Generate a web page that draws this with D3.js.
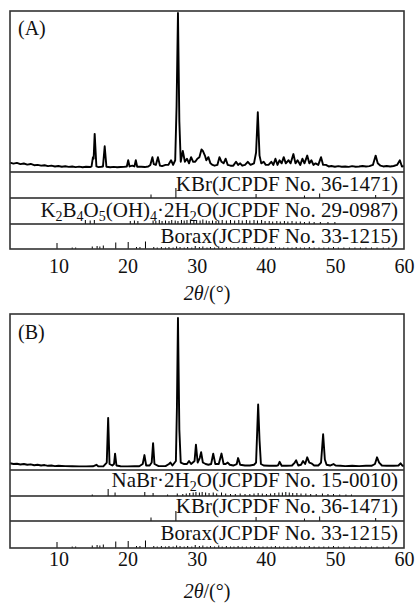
<!DOCTYPE html>
<meta charset="utf-8">
<script src="https://d3js.org/d3.v7.min.js"></script>
<div id="my_dataviz"></div>

<style>
  body { margin: 0; background: #fff; }
  svg text { font-family: "Liberation Serif", "DejaVu Serif", serif !important; fill: #111; }
</style>

<script>

// 2theta tick labels
var ticks2theta = [10, 20, 30, 40, 50, 60];

// measured patterns: [2theta, intensity (a.u., main peak = 100)]
var patternA = [
  [3.0,3.5],[3.5,2.8],[4.0,3.3],[4.5,2.5],[5.0,2.9],[5.5,2.2],[6.0,2.6],[6.5,1.8],[7.0,2.0],[7.5,1.5],
  [8.0,1.8],[8.5,1.2],[9.0,1.5],[9.5,1.0],[10.0,1.3],[10.5,0.8],[11.0,1.1],[11.5,0.7],[12.0,1.0],[12.5,0.6],
  [13.0,0.9],[13.5,0.5],[14.0,0.8],[14.6,0.6],[14.8,1],[15.0,7],[15.1,6],[15.25,22],[15.5,1],[15.8,0.6],
  [16.2,0.8],[16.45,1],[16.7,14],[16.95,0.8],[17.5,0.5],[18.0,0.7],[18.5,0.5],[19.0,0.6],[19.5,0.7],[19.9,1],
  [20.1,5],[20.3,1],[20.7,1.5],[21.0,1],[21.2,5],[21.4,0.8],[22.0,0.8],[22.5,0.6],[23.0,1],[23.3,2],
  [23.6,7],[23.8,2.5],[24.1,2],[24.4,7],[24.7,1.5],[25.0,1.2],[25.5,2],[25.9,2],[26.3,5],[26.6,2],
  [26.9,5],[27.1,40],[27.3,100],[27.5,30],[27.7,4],[28.0,11],[28.3,4],[28.6,6],[28.9,3],[29.2,7],
  [29.5,4],[29.8,4],[30.1,6],[30.4,7],[30.7,12],[30.9,11],[31.2,8],[31.4,5],[31.7,7],[32.0,3],
  [32.3,2],[32.6,1.5],[33.0,2],[33.3,7],[33.6,4],[33.9,3],[34.2,6],[34.5,2],[34.9,1.5],[35.3,1.5],
  [35.7,4],[36.0,2],[36.3,3],[36.6,1.5],[37.0,2],[37.4,4],[37.8,2],[38.3,3],[38.6,10],[38.85,36],
  [39.1,8],[39.35,3],[39.7,4],[40.0,2],[40.4,2],[40.8,4],[41.1,2],[41.4,6],[41.7,2],[42.0,5],
  [42.3,3],[42.6,7],[42.9,3],[43.3,5],[43.6,3],[44.0,9],[44.3,3],[44.6,5],[45.0,2],[45.3,6],
  [45.6,3],[46.0,8],[46.3,3],[46.6,5],[46.9,2],[47.2,3],[47.6,2],[48.0,7],[48.3,2],[48.7,2],
  [49.1,1],[49.5,1.3],[50.0,0.8],[50.5,1.2],[51.0,0.8],[51.5,1],[52.0,0.7],[52.5,1.2],[53.0,0.8],[53.5,1],
  [54.0,1.3],[54.5,1],[55.0,1.2],[55.5,2],[55.9,8],[56.2,3],[56.6,1.5],[57.0,1],[57.5,1.3],[58.0,1],
  [58.5,1.3],[59.0,2],[59.4,5],[59.7,1],[60.0,1.2]
];

var patternB = [
  [3.0,2.5],[3.5,2.0],[4.0,2.2],[4.5,1.7],[5.0,2.0],[5.5,1.5],[6.0,1.8],[6.5,1.2],[7.0,1.5],[7.5,1.0],
  [8.0,1.3],[8.5,0.8],[9.0,1.0],[9.5,0.6],[10.0,0.8],[11.0,0.6],[12.0,0.5],[13.0,0.4],[14.0,0.4],[15.0,0.5],
  [15.5,1.5],[15.8,0.4],[16.5,0.4],[17.0,3],[17.2,33],[17.4,2],[17.8,1],[18.05,2],[18.2,9],[18.4,1],
  [19.0,0.5],[20.0,0.4],[21.0,0.5],[21.7,0.5],[22.2,2],[22.45,8],[22.7,1],[23.2,1],[23.5,3],[23.7,16],
  [23.9,2],[24.5,0.6],[25.5,0.6],[26.0,2],[26.2,3],[26.5,1],[27.0,4],[27.15,40],[27.3,100],[27.5,25],
  [27.7,3],[28.2,2],[28.6,2],[28.9,4],[29.2,2],[29.7,4],[29.9,15],[30.15,3],[30.45,6],[30.65,10],
  [30.9,3],[31.3,2],[31.7,1.5],[32.1,2],[32.4,9],[32.7,2],[33.2,2],[33.6,9],[33.9,2],[34.2,2],
  [34.5,3],[34.8,1.5],[35.3,1],[35.8,2],[36.0,6],[36.3,1.5],[37.0,1],[37.7,1],[38.3,1.5],[38.6,3],
  [38.9,42],[39.1,18],[39.3,2],[39.7,1],[40.5,0.8],[41.5,0.8],[41.8,1.2],[42.0,3.5],[42.3,0.8],[43.0,0.8],
  [43.8,1],[44.2,3],[44.4,4.5],[44.7,1],[45.1,1.5],[45.4,4],[45.7,2],[46.0,6.5],[46.3,3],[46.6,2.5],
  [47.0,1],[47.6,1],[48.0,3],[48.3,22],[48.55,5],[48.8,1.5],[49.3,1],[49.8,2],[50.1,1],[50.8,0.8],
  [51.5,0.6],[52.5,0.8],[53.5,0.6],[54.5,0.8],[55.3,0.8],[55.8,2],[56.1,6.5],[56.4,3],[56.8,1],[57.5,0.8],
  [58.5,0.8],[59.2,1],[59.5,2.5],[59.8,0.8],[60.0,0.8]
];

// reference cards: [2theta, relative intensity]
var kbrSticks = [[23.4,35],[27.0,100],[38.6,40],[45.6,25],[47.8,45],[55.9,30]];

var k2b4Sticks = [
  [13.9,40],[14.6,35],[15.2,40],[20.4,30],[21.0,35],[21.5,30],[23.7,35],[24.1,30],[24.6,40],[25.0,30],
  [25.5,35],[26.0,30],[26.4,40],[26.9,35],[27.3,30],[27.8,40],[28.2,35],[28.6,40],[29.1,45],[29.6,35],
  [30.0,40],[30.5,35],[30.9,45],[31.4,35],[31.8,30],[32.3,35],[32.8,30],[33.2,35],[33.7,40],[34.3,35],
  [34.9,40],[35.5,35],[36.1,40],[36.6,35],[37.2,40],[37.7,35],[38.3,40],[38.8,35],[39.4,40],[39.9,30],
  [40.5,30],[41.0,25],[41.6,30],[42.1,25],[42.7,30],[43.2,25],[43.8,30],[44.4,25],[45.0,25],[45.6,20],
  [46.3,25],[47.0,20],[47.9,20],[49.0,20],[50.0,20]
];

var boraxSticks = [
  [9.8,60],[12.0,15],[12.5,15],[14.9,25],[15.6,30],[16.0,25],[16.5,35],[18.3,65],[20.1,70],[21.3,20],
  [21.8,20],[22.6,75],[23.8,20],[24.3,15],[24.9,20],[25.5,15],[26.0,20],[26.6,15],[27.1,25],[27.6,20],
  [28.2,15],[28.7,20],[29.3,15],[29.8,30],[30.4,20],[30.9,25],[31.5,15],[32.0,20],[32.6,15],[33.2,25],
  [33.7,15],[34.3,20],[34.9,15],[35.4,15],[36.0,20],[36.6,15],[37.2,15],[37.8,15],[38.4,20],[39.0,15],
  [39.6,15],[40.2,15],[40.8,15],[41.4,20],[42.0,15],[42.6,15],[43.2,15],[43.8,15],[44.4,20],[45.0,15],
  [45.6,15],[46.3,20],[47.0,15],[47.7,15],[48.4,15],[49.1,15],[49.8,20],[50.5,15],[51.3,15],[52.1,15],
  [52.9,15],[53.7,15],[54.5,15],[55.3,15],[56.1,15],[57.0,15],[57.8,15]
];

var nabrSticks = [
  [14.9,15],[17.2,70],[18.2,35],[22.5,40],[23.7,30],[25.8,15],[27.2,25],[28.0,20],[28.5,25],[29.0,30],
  [29.5,35],[29.9,40],[30.4,35],[30.8,40],[31.3,35],[31.8,30],[32.4,35],[32.9,25],[33.6,35],[34.2,25],
  [34.9,20],[35.6,20],[36.3,25],[37.0,20],[37.7,20],[38.3,25],[38.9,30],[39.5,25],[40.1,20],[40.7,25],
  [41.3,30],[41.9,35],[42.4,35],[42.9,40],[43.4,35],[43.9,30],[44.5,30],[45.1,25],[45.8,25],[46.5,20],
  [47.3,20],[48.2,25],[49.0,20],[49.8,20],[50.7,15],[51.6,15],[52.4,15]
];

// card labels, split into [text, subscript?] pieces
var labelKBr = [["KBr(JCPDF No. 36-1471)", 0]];
var labelK2B4 = [["K",0],["2",1],["B",0],["4",1],["O",0],["5",1],["(OH)",0],["4",1],["\u00b72H",0],["2",1],["O(JCPDF No. 29-0987)",0]];
var labelBorax = [["Borax(JCPDF No. 33-1215)", 0]];
var labelNaBr = [["NaBr\u00b72H",0],["2",1],["O(JCPDF No. 15-0010)",0]];

var serif = '"Liberation Serif", "DejaVu Serif", serif';
var W = 416, H = 603;
var svg = d3.select("#my_dataviz").append("svg")
  .attr("width", W).attr("height", H)
  .attr("font-family", serif);

var x = d3.scaleLinear().domain([3, 60]).range([10, 404]);

function drawPanel(p) {
  var g = svg.append("g");

  var y = d3.scaleLinear().domain([0, 100]).range([p.base, p.peakTop]);

  var line = d3.line()
    .x(function(d) { return x(d[0]); })
    .y(function(d) { return y(d[1]); });

  g.append("path")
    .datum(p.pattern)
    .attr("d", line)
    .attr("fill", "none")
    .attr("stroke", "#000")
    .attr("stroke-width", 1.9)
    .attr("stroke-linejoin", "round");

  // card strips
  p.strips.forEach(function(s) {
    var sh = d3.scaleLinear().domain([0, 100]).range([0, 10]);
    g.append("line")
      .attr("x1", x(3)).attr("x2", x(60))
      .attr("y1", s.top).attr("y2", s.top)
      .attr("stroke", "#222").attr("stroke-width", 1.4);

    g.selectAll(null)
      .data(s.sticks)
      .enter().append("line")
        .attr("x1", function(d) { return x(d[0]); })
        .attr("x2", function(d) { return x(d[0]); })
        .attr("y1", s.bottom)
        .attr("y2", function(d) { return s.bottom - sh(d[1]); })
        .attr("stroke", "#000").attr("stroke-width", 1);

    var t = g.append("text")
      .attr("x", 398).attr("y", s.textY)
      .attr("text-anchor", "end")
      .attr("font-family", serif)
      .style("font-size", "21px");
    var prevSub = false;
    s.label.forEach(function(piece) {
      var isSub = piece[1] === 1;
      var ts = t.append("tspan")
        .attr("dy", (isSub ? 4 : 0) - (prevSub ? 4 : 0))
        .text(piece[0]);
      if (isSub) ts.style("font-size", "14px");
      prevSub = isSub;
    });
  });

  // frame
  g.append("rect")
    .attr("x", x(3)).attr("y", p.top)
    .attr("width", x(60) - x(3)).attr("height", p.bottom - p.top)
    .attr("fill", "none").attr("stroke", "#333").attr("stroke-width", 1.6);

  // axis labels
  var ax = g.append("g")
    .attr("transform", "translate(0," + p.bottom + ")")
    .call(d3.axisBottom(x).tickValues(ticks2theta).tickSize(0).tickPadding(0));
  ax.attr("font-family", serif).attr("font-size", 20);
  ax.select(".domain").remove();
  ax.selectAll("text")
    .attr("dy", null)
    .attr("y", p.tickY - p.bottom)
    .attr("fill", "#111");

  var title = g.append("text")
    .attr("x", 207).attr("y", p.titleY)
    .attr("text-anchor", "middle")
    .attr("font-family", serif)
    .style("font-size", "20px");
  title.append("tspan").style("font-style", "italic").text("2\u03b8");
  title.append("tspan").text("/(\u00b0)");

  g.append("text")
    .attr("x", 18).attr("y", p.tagY)
    .attr("font-family", serif)
    .style("font-size", "20px")
    .text(p.tag);
}

drawPanel({
  tag: "(A)", tagY: 35,
  pattern: patternA,
  top: 11, bottom: 249, base: 168, peakTop: 13,
  tickY: 273, titleY: 300,
  strips: [
    {top: 172, bottom: 198, textY: 191, label: labelKBr, sticks: kbrSticks},
    {top: 198, bottom: 224, textY: 217, label: labelK2B4, sticks: k2b4Sticks},
    {top: 224, bottom: 249, textY: 243, label: labelBorax, sticks: boraxSticks}
  ]
});

drawPanel({
  tag: "(B)", tagY: 339,
  pattern: patternB,
  top: 314, bottom: 548, base: 467, peakTop: 318,
  tickY: 566, titleY: 598,
  strips: [
    {top: 470, bottom: 496, textY: 487, label: labelNaBr, sticks: nabrSticks},
    {top: 496, bottom: 521, textY: 513, label: labelKBr, sticks: kbrSticks},
    {top: 521, bottom: 548, textY: 540, label: labelBorax, sticks: boraxSticks}
  ]
});

</script>
